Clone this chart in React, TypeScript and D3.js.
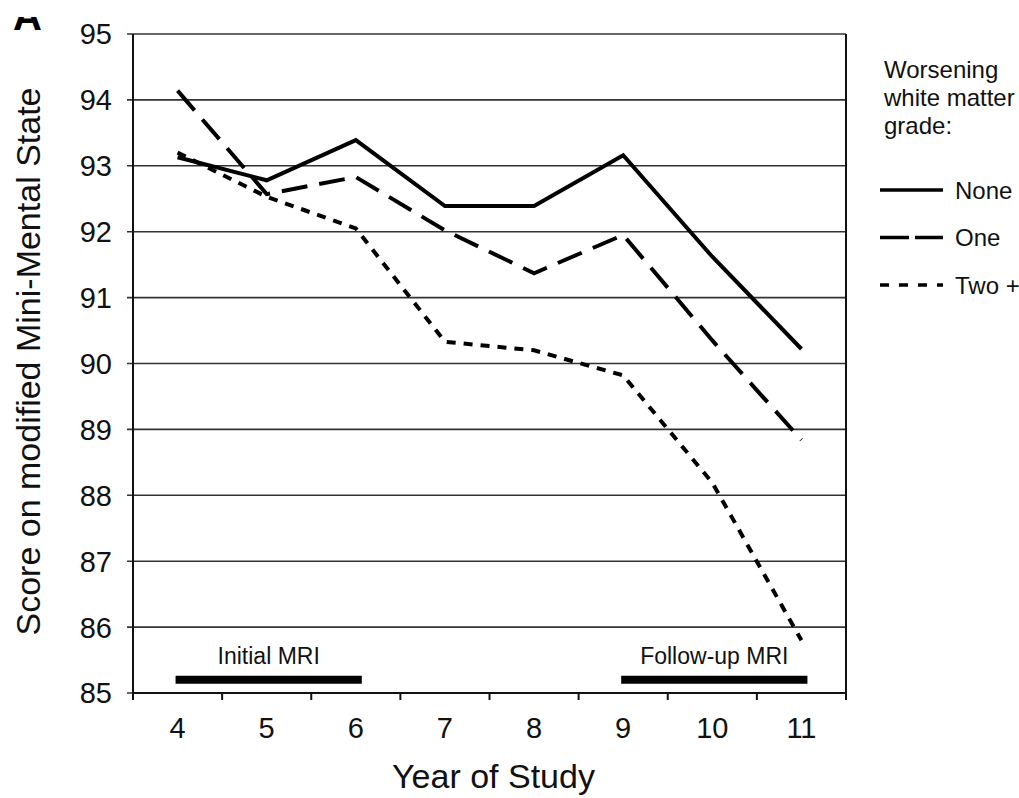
import React from 'react';
import * as d3 from 'd3';

// values
const years = [4, 5, 6, 7, 8, 9, 10, 11];
const noneScores = [93.13, 92.78, 93.39, 92.39, 92.39, 93.16, 91.62, 90.22];
const oneScores = [94.14, 92.57, 92.83, 92.02, 91.37, 91.95, 90.35, 88.84];
const twoPlusScores = [93.2, 92.53, 92.05, 90.33, 90.2, 89.82, 88.19, 85.8];
const yTicks = [85, 86, 87, 88, 89, 90, 91, 92, 93, 94, 95];
const legendTitle = ['Worsening', 'white matter', 'grade:'];
const seriesNames = ['None', 'One', 'Two +'];
const mriLabels = ['Initial MRI', 'Follow-up MRI'];
const mriStarts = [4, 9];
const mriEnds = [6, 11];

const width = 1019;
const height = 798;
const margin = { top: 34, right: 173, bottom: 105, left: 133 };
const font = '"Liberation Sans", Arial, Helvetica, sans-serif';

const App = () => {
    const x = d3.scaleBand<number>()
        .domain(years)
        .range([margin.left, width - margin.right])
        .padding(0);
    const y = d3.scaleLinear()
        .domain([85, 95])
        .range([height - margin.bottom, margin.top]);
    const cx = (d: number) => (x(d) as number) + x.bandwidth() / 2;

    const lineGen = d3.line<number>()
        .x((d, i) => cx(years[i]))
        .y(d => y(d));

    const series = [
        { name: seriesNames[0], values: noneScores, dash: null, legendDash: null },
        { name: seriesNames[1], values: oneScores, dash: '26 12', legendDash: '29 6' },
        { name: seriesNames[2], values: twoPlusScores, dash: '9 8', legendDash: '9 10' },
    ];

    const x0 = margin.left;
    const x1 = width - margin.right;
    const bottom = height - margin.bottom;
    // band boundaries for x tick marks
    const bounds = [...years.map(d => x(d) as number), x1];

    return (
        <svg width={width} height={height} style={{ position: 'absolute', left: 0, top: 0, background: '#fff' }}
            fontFamily={font}>
            <defs>
                <clipPath id="clipA">
                    <rect x={0} y={17} width={80} height={20} />
                </clipPath>
            </defs>
            {/* panel letter, cut off at the top as in the source */}
            <text x={13} y={30} fontSize={40} fontWeight="bold" clipPath="url(#clipA)">A</text>

            {/* grid lines + y ticks */}
            {yTicks.map(t => (
                <g key={t}>
                    <line x1={x0 - 6} x2={x1} y1={y(t)} y2={y(t)} stroke="#333" strokeWidth={1.6} />
                    <text x={112} y={y(t)} dy="0.36em" textAnchor="end" fontSize={29} fill="#111">{t}</text>
                </g>
            ))}

            {/* frame */}
            <line x1={x0} x2={x0} y1={margin.top} y2={bottom} stroke="#111" strokeWidth={2} />
            <line x1={x1} x2={x1} y1={margin.top} y2={bottom} stroke="#111" strokeWidth={2} />
            <line x1={x0} x2={x1} y1={bottom} y2={bottom} stroke="#111" strokeWidth={2} />

            {/* x ticks at band edges */}
            {bounds.map((b, i) => (
                <line key={i} x1={b} x2={b} y1={bottom} y2={bottom + 7} stroke="#111" strokeWidth={2} />
            ))}
            {years.map(d => (
                <text key={d} x={cx(d)} y={738} textAnchor="middle" fontSize={29} fill="#111">{d}</text>
            ))}

            {/* axis titles */}
            <text x={(x0 + x1) / 2 + 4} y={788} textAnchor="middle" fontSize={34} fill="#111">Year of Study</text>
            <text transform={`translate(40, ${(margin.top + bottom) / 2 - 2}) rotate(-90)`} textAnchor="middle"
                fontSize={34} fill="#111">Score on modified Mini-Mental State</text>

            {/* MRI periods */}
            {mriLabels.map((label, i) => {
                const s = cx(mriStarts[i]) - 2;
                const e = cx(mriEnds[i]) + 6;
                return (
                    <g key={label}>
                        <line x1={s} x2={e} y1={y(85.2)} y2={y(85.2)} stroke="#000" strokeWidth={8} />
                        <text x={(s + e) / 2} y={664} textAnchor="middle" fontSize={23} fill="#111">{label}</text>
                    </g>
                );
            })}

            {/* series lines */}
            {series.map(s => (
                <path key={s.name} d={lineGen(s.values) || ''} fill="none" stroke="#000" strokeWidth={4}
                    strokeDasharray={s.dash || undefined} strokeLinejoin="miter" />
            ))}

            {/* legend */}
            {legendTitle.map((t, i) => (
                <text key={t} x={884} y={78 + i * 28} fontSize={24} fill="#111">{t}</text>
            ))}
            {series.map((s, i) => (
                <g key={s.name} transform={`translate(0, ${190 + i * 47.5})`}>
                    <line x1={880} x2={943} y1={0} y2={0} stroke="#000" strokeWidth={3.5}
                        strokeDasharray={s.legendDash || undefined} />
                    <text x={955} y={0} dy="0.36em" fontSize={24} fill="#111">{s.name}</text>
                </g>
            ))}
        </svg>
    );
};

export default App;
